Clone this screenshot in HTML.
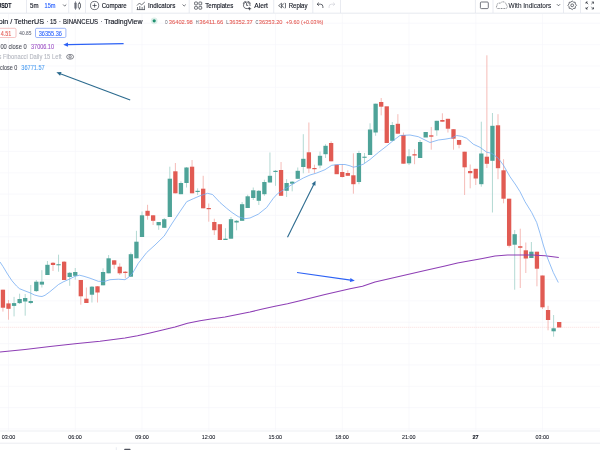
<!DOCTYPE html><html><head><meta charset="utf-8"><style>
html,body{margin:0;padding:0;background:#fff;}
body{width:600px;height:450px;overflow:hidden;position:relative;font-family:"Liberation Sans",sans-serif;}
svg{position:absolute;left:0;top:0;will-change:transform;filter:blur(0.3px);}
</style></head><body>
<svg width="600" height="450" viewBox="0 0 600 450" font-family="Liberation Sans, sans-serif">
<g stroke="#f6f7fa" stroke-width="0.7"><line x1="8.50" y1="14" x2="8.50" y2="430.5" /><line x1="75.25" y1="14" x2="75.25" y2="430.5" /><line x1="142.00" y1="14" x2="142.00" y2="430.5" /><line x1="208.75" y1="14" x2="208.75" y2="430.5" /><line x1="275.50" y1="14" x2="275.50" y2="430.5" /><line x1="342.25" y1="14" x2="342.25" y2="430.5" /><line x1="409.00" y1="14" x2="409.00" y2="430.5" /><line x1="475.75" y1="14" x2="475.75" y2="430.5" /><line x1="542.50" y1="14" x2="542.50" y2="430.5" /><line x1="0" y1="23.30" x2="600" y2="23.30" /><line x1="0" y1="44.65" x2="600" y2="44.65" /><line x1="0" y1="66.00" x2="600" y2="66.00" /><line x1="0" y1="87.35" x2="600" y2="87.35" /><line x1="0" y1="108.70" x2="600" y2="108.70" /><line x1="0" y1="130.05" x2="600" y2="130.05" /><line x1="0" y1="151.40" x2="600" y2="151.40" /><line x1="0" y1="172.75" x2="600" y2="172.75" /><line x1="0" y1="194.10" x2="600" y2="194.10" /><line x1="0" y1="215.45" x2="600" y2="215.45" /><line x1="0" y1="236.80" x2="600" y2="236.80" /><line x1="0" y1="258.15" x2="600" y2="258.15" /><line x1="0" y1="279.50" x2="600" y2="279.50" /><line x1="0" y1="300.85" x2="600" y2="300.85" /><line x1="0" y1="322.20" x2="600" y2="322.20" /><line x1="0" y1="343.55" x2="600" y2="343.55" /><line x1="0" y1="364.90" x2="600" y2="364.90" /><line x1="0" y1="386.25" x2="600" y2="386.25" /><line x1="0" y1="407.60" x2="600" y2="407.60" /><line x1="0" y1="428.95" x2="600" y2="428.95" /></g>
<line x1="0" y1="327.3" x2="600" y2="327.3" stroke="#f8d3d1" stroke-width="0.6" stroke-dasharray="1.3 0.7"/>
<g stroke-width="0.8"><line x1="2.94" y1="289.7" x2="2.94" y2="311.6" stroke="#f2a9a5" /><line x1="8.50" y1="300" x2="8.50" y2="319.7" stroke="#f2a9a5" /><line x1="14.06" y1="296.9" x2="14.06" y2="316.4" stroke="#9fcfc8" /><line x1="19.62" y1="293.7" x2="19.62" y2="304" stroke="#9fcfc8" /><line x1="25.19" y1="294" x2="25.19" y2="315.7" stroke="#9fcfc8" /><line x1="30.75" y1="285" x2="30.75" y2="304.2" stroke="#9fcfc8" /><line x1="36.31" y1="280" x2="36.31" y2="292" stroke="#9fcfc8" /><line x1="41.88" y1="270.2" x2="41.88" y2="287.5" stroke="#9fcfc8" /><line x1="47.44" y1="261" x2="47.44" y2="275" stroke="#9fcfc8" /><line x1="53.00" y1="262" x2="53.00" y2="271" stroke="#f2a9a5" /><line x1="58.56" y1="254.7" x2="58.56" y2="271.7" stroke="#9fcfc8" /><line x1="64.12" y1="261" x2="64.12" y2="280" stroke="#f2a9a5" /><line x1="69.69" y1="272" x2="69.69" y2="285.8" stroke="#9fcfc8" /><line x1="75.25" y1="268" x2="75.25" y2="279.7" stroke="#9fcfc8" /><line x1="80.81" y1="280" x2="80.81" y2="304.7" stroke="#f2a9a5" /><line x1="86.38" y1="287.5" x2="86.38" y2="303" stroke="#f2a9a5" /><line x1="91.94" y1="286" x2="91.94" y2="302.5" stroke="#9fcfc8" /><line x1="97.50" y1="286" x2="97.50" y2="302.5" stroke="#f2a9a5" /><line x1="103.06" y1="268.3" x2="103.06" y2="285.3" stroke="#9fcfc8" /><line x1="108.62" y1="255" x2="108.62" y2="273.3" stroke="#9fcfc8" /><line x1="114.19" y1="260" x2="114.19" y2="268.7" stroke="#f2a9a5" /><line x1="119.75" y1="263.3" x2="119.75" y2="275" stroke="#f2a9a5" /><line x1="125.31" y1="271" x2="125.31" y2="278.3" stroke="#f2a9a5" /><line x1="130.88" y1="252.5" x2="130.88" y2="277" stroke="#9fcfc8" /><line x1="136.44" y1="230.8" x2="136.44" y2="258.3" stroke="#9fcfc8" /><line x1="142.00" y1="211.5" x2="142.00" y2="237" stroke="#9fcfc8" /><line x1="147.56" y1="204.8" x2="147.56" y2="219.7" stroke="#f2a9a5" /><line x1="153.12" y1="215" x2="153.12" y2="225" stroke="#f2a9a5" /><line x1="158.69" y1="222" x2="158.69" y2="229.8" stroke="#9fcfc8" /><line x1="164.25" y1="218" x2="164.25" y2="228" stroke="#9fcfc8" /><line x1="169.81" y1="166.7" x2="169.81" y2="217" stroke="#9fcfc8" /><line x1="175.38" y1="163" x2="175.38" y2="193.3" stroke="#f2a9a5" /><line x1="180.94" y1="181.3" x2="180.94" y2="194.2" stroke="#9fcfc8" /><line x1="186.50" y1="167" x2="186.50" y2="187.5" stroke="#9fcfc8" /><line x1="192.06" y1="160" x2="192.06" y2="193.3" stroke="#f2a9a5" /><line x1="197.62" y1="188.3" x2="197.62" y2="195" stroke="#9fcfc8" /><line x1="203.19" y1="175.8" x2="203.19" y2="208.3" stroke="#f2a9a5" /><line x1="208.75" y1="203.5" x2="208.75" y2="221.7" stroke="#f2a9a5" /><line x1="214.31" y1="218.7" x2="214.31" y2="235" stroke="#f2a9a5" /><line x1="225.44" y1="228.2" x2="225.44" y2="240" stroke="#9fcfc8" /><line x1="231.00" y1="217" x2="231.00" y2="238.7" stroke="#9fcfc8" /><line x1="236.56" y1="220" x2="236.56" y2="230.3" stroke="#9fcfc8" /><line x1="242.12" y1="202" x2="242.12" y2="220.8" stroke="#9fcfc8" /><line x1="247.69" y1="194.7" x2="247.69" y2="208" stroke="#9fcfc8" /><line x1="253.25" y1="187.5" x2="253.25" y2="200" stroke="#9fcfc8" /><line x1="258.81" y1="190" x2="258.81" y2="205" stroke="#9fcfc8" /><line x1="264.38" y1="179.7" x2="264.38" y2="195.8" stroke="#9fcfc8" /><line x1="269.94" y1="152.5" x2="269.94" y2="182.5" stroke="#9fcfc8" /><line x1="275.50" y1="170" x2="275.50" y2="185.8" stroke="#9fcfc8" /><line x1="281.06" y1="162" x2="281.06" y2="195.8" stroke="#f2a9a5" /><line x1="286.62" y1="179.2" x2="286.62" y2="197" stroke="#9fcfc8" /><line x1="292.19" y1="181" x2="292.19" y2="191.3" stroke="#9fcfc8" /><line x1="297.75" y1="167.5" x2="297.75" y2="178.8" stroke="#9fcfc8" /><line x1="303.31" y1="134.2" x2="303.31" y2="173.3" stroke="#9fcfc8" /><line x1="308.88" y1="122.5" x2="308.88" y2="173" stroke="#f2a9a5" /><line x1="314.44" y1="164.7" x2="314.44" y2="173.3" stroke="#f2a9a5" /><line x1="320.00" y1="151.5" x2="320.00" y2="168.3" stroke="#9fcfc8" /><line x1="325.56" y1="144.2" x2="325.56" y2="158" stroke="#9fcfc8" /><line x1="331.12" y1="141.3" x2="331.12" y2="161.3" stroke="#f2a9a5" /><line x1="342.25" y1="164.2" x2="342.25" y2="177.5" stroke="#f2a9a5" /><line x1="347.81" y1="170.3" x2="347.81" y2="175.8" stroke="#f2a9a5" /><line x1="353.38" y1="153.3" x2="353.38" y2="193.7" stroke="#f2a9a5" /><line x1="358.94" y1="150.8" x2="358.94" y2="184.2" stroke="#9fcfc8" /><line x1="364.50" y1="153" x2="364.50" y2="163.3" stroke="#9fcfc8" /><line x1="370.06" y1="123.3" x2="370.06" y2="155" stroke="#9fcfc8" /><line x1="375.62" y1="103.7" x2="375.62" y2="135.8" stroke="#9fcfc8" /><line x1="381.19" y1="98" x2="381.19" y2="115.3" stroke="#f2a9a5" /><line x1="392.31" y1="122" x2="392.31" y2="140.8" stroke="#9fcfc8" /><line x1="397.88" y1="114.2" x2="397.88" y2="133.7" stroke="#f2a9a5" /><line x1="403.44" y1="132.5" x2="403.44" y2="163.7" stroke="#f2a9a5" /><line x1="409.00" y1="149.2" x2="409.00" y2="165" stroke="#9fcfc8" /><line x1="414.56" y1="149.2" x2="414.56" y2="164.2" stroke="#f2a9a5" /><line x1="420.12" y1="140" x2="420.12" y2="158" stroke="#9fcfc8" /><line x1="431.25" y1="127" x2="431.25" y2="149.7" stroke="#f2a9a5" /><line x1="436.81" y1="120.8" x2="436.81" y2="135.8" stroke="#9fcfc8" /><line x1="442.38" y1="113.3" x2="442.38" y2="121.7" stroke="#f2a9a5" /><line x1="447.94" y1="118.8" x2="447.94" y2="132.5" stroke="#f2a9a5" /><line x1="453.50" y1="129" x2="453.50" y2="149.7" stroke="#f2a9a5" /><line x1="459.06" y1="140" x2="459.06" y2="148.3" stroke="#f2a9a5" /><line x1="464.62" y1="151.7" x2="464.62" y2="195" stroke="#f2a9a5" /><line x1="470.19" y1="164.5" x2="470.19" y2="188.3" stroke="#f2a9a5" /><line x1="475.75" y1="168.8" x2="475.75" y2="185" stroke="#f2a9a5" /><line x1="481.31" y1="121.7" x2="481.31" y2="186.7" stroke="#9fcfc8" /><line x1="486.88" y1="55.3" x2="486.88" y2="168" stroke="#f2a9a5" /><line x1="492.44" y1="113" x2="492.44" y2="212.5" stroke="#9fcfc8" /><line x1="498.00" y1="114.2" x2="498.00" y2="179.2" stroke="#f2a9a5" /><line x1="503.56" y1="159.2" x2="503.56" y2="203.3" stroke="#f2a9a5" /><line x1="509.12" y1="198.7" x2="509.12" y2="247.5" stroke="#f2a9a5" /><line x1="514.69" y1="230" x2="514.69" y2="289.7" stroke="#9fcfc8" /><line x1="520.25" y1="228.7" x2="520.25" y2="288" stroke="#f2a9a5" /><line x1="525.81" y1="242.5" x2="525.81" y2="273" stroke="#f2a9a5" /><line x1="531.38" y1="242" x2="531.38" y2="258" stroke="#9fcfc8" /><line x1="536.94" y1="251.7" x2="536.94" y2="286.3" stroke="#f2a9a5" /><line x1="542.50" y1="275.5" x2="542.50" y2="309" stroke="#f2a9a5" /><line x1="548.06" y1="305.8" x2="548.06" y2="330.3" stroke="#f2a9a5" /><line x1="553.62" y1="315" x2="553.62" y2="336.7" stroke="#9fcfc8" /></g>
<g><rect x="0.79" y="289.7" width="4.3" height="18.00" fill="#e15b53" /><rect x="6.35" y="303.4" width="4.3" height="5.40" fill="#e15b53" /><rect x="11.91" y="303.1" width="4.3" height="2.80" fill="#4ea398" /><rect x="17.48" y="299" width="4.3" height="4.10" fill="#4ea398" /><rect x="23.04" y="298" width="4.3" height="3.50" fill="#4ea398" /><rect x="28.60" y="301" width="4.3" height="2.00" fill="#4ea398" /><rect x="34.16" y="281.7" width="4.3" height="9.40" fill="#4ea398" /><rect x="39.73" y="281.7" width="4.3" height="2.90" fill="#4ea398" /><rect x="45.29" y="264.8" width="4.3" height="10.20" fill="#4ea398" /><rect x="50.85" y="262.8" width="4.3" height="2.20" fill="#e15b53" /><rect x="56.41" y="264.2" width="4.3" height="1.10" fill="#4ea398" /><rect x="61.98" y="261.7" width="4.3" height="18.30" fill="#e15b53" /><rect x="67.54" y="272.8" width="4.3" height="4.20" fill="#4ea398" /><rect x="73.10" y="272" width="4.3" height="3.80" fill="#4ea398" /><rect x="78.66" y="280" width="4.3" height="16.30" fill="#e15b53" /><rect x="84.22" y="298.7" width="4.3" height="4.30" fill="#e15b53" /><rect x="89.79" y="286.7" width="4.3" height="8.00" fill="#4ea398" /><rect x="95.35" y="286.3" width="4.3" height="6.20" fill="#e15b53" /><rect x="100.91" y="272" width="4.3" height="13.30" fill="#4ea398" /><rect x="106.47" y="258.3" width="4.3" height="15.00" fill="#4ea398" /><rect x="112.04" y="260.3" width="4.3" height="4.40" fill="#e15b53" /><rect x="117.60" y="266.7" width="4.3" height="6.60" fill="#e15b53" /><rect x="123.16" y="271.7" width="4.3" height="1.30" fill="#e15b53" /><rect x="128.72" y="254.2" width="4.3" height="22.50" fill="#4ea398" /><rect x="134.29" y="241.7" width="4.3" height="16.60" fill="#4ea398" /><rect x="139.85" y="215.3" width="4.3" height="21.70" fill="#4ea398" /><rect x="145.41" y="210.8" width="4.3" height="5.00" fill="#e15b53" /><rect x="150.97" y="215.3" width="4.3" height="5.50" fill="#e15b53" /><rect x="156.54" y="222" width="4.3" height="3.30" fill="#4ea398" /><rect x="162.10" y="219.2" width="4.3" height="8.60" fill="#4ea398" /><rect x="167.66" y="178.7" width="4.3" height="38.30" fill="#4ea398" /><rect x="173.22" y="171.3" width="4.3" height="22.00" fill="#e15b53" /><rect x="178.79" y="183" width="4.3" height="11.20" fill="#4ea398" /><rect x="184.35" y="167.5" width="4.3" height="15.50" fill="#4ea398" /><rect x="189.91" y="166.7" width="4.3" height="26.60" fill="#e15b53" /><rect x="195.47" y="190.8" width="4.3" height="1.20" fill="#4ea398" /><rect x="201.04" y="188.7" width="4.3" height="19.60" fill="#e15b53" /><rect x="206.60" y="208" width="4.3" height="1.20" fill="#e15b53" /><rect x="212.16" y="222" width="4.3" height="8.20" fill="#e15b53" /><rect x="217.72" y="224.2" width="4.3" height="15.80" fill="#e15b53" /><rect x="223.29" y="238.7" width="4.3" height="1.30" fill="#4ea398" /><rect x="228.85" y="219.2" width="4.3" height="19.50" fill="#4ea398" /><rect x="234.41" y="220.8" width="4.3" height="1.70" fill="#4ea398" /><rect x="239.97" y="204.2" width="4.3" height="16.60" fill="#4ea398" /><rect x="245.54" y="196.3" width="4.3" height="11.70" fill="#4ea398" /><rect x="251.10" y="190.3" width="4.3" height="7.70" fill="#4ea398" /><rect x="256.66" y="190.8" width="4.3" height="10.00" fill="#4ea398" /><rect x="262.23" y="182" width="4.3" height="12.20" fill="#4ea398" /><rect x="267.79" y="175.8" width="4.3" height="6.70" fill="#4ea398" /><rect x="273.35" y="170.8" width="4.3" height="1.20" fill="#4ea398" /><rect x="278.91" y="170" width="4.3" height="25.80" fill="#e15b53" /><rect x="284.48" y="183" width="4.3" height="7.80" fill="#4ea398" /><rect x="290.04" y="181.7" width="4.3" height="2.00" fill="#4ea398" /><rect x="295.60" y="170.8" width="4.3" height="8.00" fill="#4ea398" /><rect x="301.16" y="158.8" width="4.3" height="8.20" fill="#4ea398" /><rect x="306.73" y="152.3" width="4.3" height="16.20" fill="#e15b53" /><rect x="312.29" y="168" width="4.3" height="1.20" fill="#e15b53" /><rect x="317.85" y="155.8" width="4.3" height="9.70" fill="#4ea398" /><rect x="323.41" y="145.8" width="4.3" height="8.40" fill="#4ea398" /><rect x="328.98" y="143" width="4.3" height="18.30" fill="#e15b53" /><rect x="334.54" y="164.7" width="4.3" height="9.50" fill="#e15b53" /><rect x="340.10" y="172" width="4.3" height="5.00" fill="#e15b53" /><rect x="345.66" y="173" width="4.3" height="2.80" fill="#e15b53" /><rect x="351.23" y="175.3" width="4.3" height="8.90" fill="#e15b53" /><rect x="356.79" y="153" width="4.3" height="29.00" fill="#4ea398" /><rect x="362.35" y="156.7" width="4.3" height="1.10" fill="#4ea398" /><rect x="367.91" y="129.5" width="4.3" height="25.50" fill="#4ea398" /><rect x="373.48" y="103.7" width="4.3" height="28.80" fill="#4ea398" /><rect x="379.04" y="102" width="4.3" height="4.70" fill="#e15b53" /><rect x="384.60" y="106.3" width="4.3" height="36.70" fill="#e15b53" /><rect x="390.16" y="125" width="4.3" height="15.80" fill="#4ea398" /><rect x="395.73" y="123.8" width="4.3" height="9.90" fill="#e15b53" /><rect x="401.29" y="135" width="4.3" height="28.70" fill="#e15b53" /><rect x="406.85" y="156.3" width="4.3" height="7.00" fill="#4ea398" /><rect x="412.41" y="154.2" width="4.3" height="1.30" fill="#e15b53" /><rect x="417.98" y="142" width="4.3" height="16.00" fill="#4ea398" /><rect x="423.54" y="132" width="4.3" height="5.50" fill="#4ea398" /><rect x="429.10" y="135.3" width="4.3" height="1.40" fill="#e15b53" /><rect x="434.66" y="120.8" width="4.3" height="9.50" fill="#4ea398" /><rect x="440.23" y="120" width="4.3" height="1.70" fill="#e15b53" /><rect x="445.79" y="118.8" width="4.3" height="9.90" fill="#e15b53" /><rect x="451.35" y="129.2" width="4.3" height="9.50" fill="#e15b53" /><rect x="456.91" y="140" width="4.3" height="4.80" fill="#e15b53" /><rect x="462.48" y="151.7" width="4.3" height="15.60" fill="#e15b53" /><rect x="468.04" y="171" width="4.3" height="2.20" fill="#e15b53" /><rect x="473.60" y="168.8" width="4.3" height="9.70" fill="#e15b53" /><rect x="479.16" y="153.5" width="4.3" height="30.70" fill="#4ea398" /><rect x="484.73" y="156.7" width="4.3" height="7.10" fill="#e15b53" /><rect x="490.29" y="125.8" width="4.3" height="35.00" fill="#4ea398" /><rect x="495.85" y="125.3" width="4.3" height="42.90" fill="#e15b53" /><rect x="501.41" y="170.3" width="4.3" height="28.40" fill="#e15b53" /><rect x="506.98" y="198.7" width="4.3" height="47.10" fill="#e15b53" /><rect x="512.54" y="234.2" width="4.3" height="10.50" fill="#4ea398" /><rect x="518.10" y="246.2" width="4.3" height="1.60" fill="#e15b53" /><rect x="523.66" y="250.3" width="4.3" height="8.20" fill="#e15b53" /><rect x="529.23" y="251.7" width="4.3" height="6.30" fill="#4ea398" /><rect x="534.79" y="251.7" width="4.3" height="17.00" fill="#e15b53" /><rect x="540.35" y="275.5" width="4.3" height="31.80" fill="#e15b53" /><rect x="545.91" y="310" width="4.3" height="10.00" fill="#e15b53" /><rect x="551.48" y="328.3" width="4.3" height="3.00" fill="#4ea398" /><rect x="557.04" y="322" width="4.3" height="5.50" fill="#e15b53" /></g>
<polyline points="0.0,352.0 25.0,349.5 50.0,346.5 75.0,343.8 100.0,341.2 125.0,338.0 137.5,335.8 150.0,333.0 162.5,330.0 175.0,327.0 187.5,323.2 200.0,320.8 212.5,318.8 225.0,317.0 237.5,314.5 250.0,312.0 262.5,309.0 275.0,306.2 287.5,303.8 300.0,300.8 325.0,294.5 350.0,288.8 362.5,286.2 375.0,282.0 400.0,276.2 425.0,270.5 445.0,266.0 457.5,263.0 470.0,260.8 482.5,258.5 495.0,256.0 507.5,255.0 520.0,255.0 532.5,255.0 545.0,255.8 558.8,257.5" fill="none" stroke="#8e3fb5" stroke-width="1.1" stroke-linejoin="round"/>
<polyline points="0.0,262.0 3.0,266.5 7.5,274.0 12.0,280.8 16.5,286.0 19.5,288.7 24.0,290.5 30.0,292.8 34.5,295.0 39.0,296.2 42.0,296.5 45.0,295.3 49.5,292.0 54.0,288.3 58.5,284.5 63.0,282.0 69.0,279.3 75.0,276.3 79.5,275.2 84.0,276.3 90.0,278.2 98.3,281.3 105.0,281.3 110.0,279.7 118.3,279.2 125.0,279.7 129.0,277.0 132.5,273.3 138.3,263.3 146.7,252.5 155.0,245.0 164.2,236.0 171.7,224.0 180.0,211.5 186.7,201.7 193.3,198.7 200.0,195.8 207.5,193.3 212.5,194.5 220.0,202.5 226.7,208.3 232.0,212.5 238.3,216.7 245.0,218.7 250.0,218.0 258.3,214.2 266.7,207.5 273.3,198.3 277.5,193.7 283.3,190.0 290.0,185.8 296.7,181.7 303.3,178.0 310.0,175.0 316.7,173.0 325.0,169.7 331.7,165.3 338.3,164.5 345.0,164.5 350.0,165.8 353.3,167.2 357.5,166.3 363.3,164.2 370.0,159.5 378.3,152.5 386.7,146.0 393.3,140.5 400.0,135.5 410.0,135.0 418.3,136.7 424.0,139.5 430.0,142.5 438.3,140.0 445.0,139.2 451.7,138.0 456.7,135.5 461.7,136.3 466.7,138.3 473.3,144.2 480.0,147.3 486.7,152.2 491.7,153.3 498.3,158.3 503.3,165.0 510.0,176.7 515.8,185.0 520.0,191.7 525.0,201.7 531.7,212.5 536.7,222.5 540.0,233.3 543.3,245.0 546.7,255.8 548.3,260.0 553.3,272.5 558.3,282.5" fill="none" stroke="#6ea8f2" stroke-width="0.75" stroke-linejoin="round"/>
<line x1="123.6" y1="43.6" x2="67.50" y2="44.62" stroke="#2d62f5" stroke-width="1.1"/><polygon points="63.3,44.7 67.96,42.51 68.04,46.71" fill="#2d62f5"/>
<line x1="130.2" y1="99.9" x2="60.33" y2="73.68" stroke="#2b6a8e" stroke-width="1.1"/><polygon points="56.4,72.2 61.54,71.89 60.06,75.82" fill="#2b6a8e"/>
<line x1="287.5" y1="237.3" x2="313.73" y2="184.46" stroke="#2b6a8e" stroke-width="1.1"/><polygon points="315.6,180.7 315.39,185.84 311.63,183.98" fill="#2b6a8e"/>
<line x1="297.0" y1="272.5" x2="350.64" y2="280.11" stroke="#2d62f5" stroke-width="1.1"/><polygon points="354.8,280.7 349.85,282.12 350.44,277.96" fill="#2d62f5"/>
<line x1="0" y1="431" x2="600" y2="431" stroke="#e9ebf0" stroke-width="0.8"/>
<line x1="0" y1="443.2" x2="600" y2="443.2" stroke="#e6e8ee" stroke-width="0.8"/>
<rect x="0" y="0" width="600" height="13" fill="#fff"/>
<line x1="0" y1="13.2" x2="600" y2="13.2" stroke="#e0e3eb" stroke-width="0.8"/>
<line x1="26.5" y1="0" x2="26.5" y2="13" stroke="#e0e3eb" stroke-width="0.7"/>
<line x1="68.7" y1="0" x2="68.7" y2="13" stroke="#e0e3eb" stroke-width="0.7"/>
<line x1="85.5" y1="0" x2="85.5" y2="13" stroke="#e0e3eb" stroke-width="0.7"/>
<line x1="132" y1="0" x2="132" y2="13" stroke="#e0e3eb" stroke-width="0.7"/>
<line x1="189.2" y1="0" x2="189.2" y2="13" stroke="#e0e3eb" stroke-width="0.7"/>
<line x1="273.7" y1="0" x2="273.7" y2="13" stroke="#e0e3eb" stroke-width="0.7"/>
<line x1="312.8" y1="0" x2="312.8" y2="13" stroke="#e0e3eb" stroke-width="0.7"/>
<line x1="340.5" y1="0" x2="340.5" y2="13" stroke="#e0e3eb" stroke-width="0.7"/>
<line x1="475.4" y1="0" x2="475.4" y2="13" stroke="#e0e3eb" stroke-width="0.7"/>
<line x1="493" y1="0" x2="493" y2="13" stroke="#e0e3eb" stroke-width="0.7"/>
<line x1="563.5" y1="0" x2="563.5" y2="13" stroke="#e0e3eb" stroke-width="0.7"/>
<line x1="580.5" y1="0" x2="580.5" y2="13" stroke="#e0e3eb" stroke-width="0.7"/>
<text x="-2.6" y="7.9" font-size="6.8" fill="#131722" stroke="#131722" stroke-width="0.13" font-weight="bold" text-anchor="start" textLength="14.1" lengthAdjust="spacingAndGlyphs">USDT</text>
<text x="30" y="7.9" font-size="6.8" fill="#131722" stroke="#131722" stroke-width="0.13" font-weight="normal" text-anchor="start" textLength="8.5" lengthAdjust="spacingAndGlyphs">5m</text>
<text x="44.5" y="7.9" font-size="6.8" fill="#2962ff" stroke="#2962ff" stroke-width="0.13" font-weight="normal" text-anchor="start" textLength="11" lengthAdjust="spacingAndGlyphs">15m</text>
<text x="101.7" y="7.9" font-size="6.8" fill="#131722" stroke="#131722" stroke-width="0.13" font-weight="normal" text-anchor="start" textLength="25" lengthAdjust="spacingAndGlyphs">Compare</text>
<text x="148" y="7.9" font-size="6.8" fill="#131722" stroke="#131722" stroke-width="0.13" font-weight="normal" text-anchor="start" textLength="27.3" lengthAdjust="spacingAndGlyphs">Indicators</text>
<text x="205.3" y="7.9" font-size="6.8" fill="#131722" stroke="#131722" stroke-width="0.13" font-weight="normal" text-anchor="start" textLength="28" lengthAdjust="spacingAndGlyphs">Templates</text>
<text x="254.2" y="7.9" font-size="6.8" fill="#131722" stroke="#131722" stroke-width="0.13" font-weight="normal" text-anchor="start" textLength="13.8" lengthAdjust="spacingAndGlyphs">Alert</text>
<text x="288.7" y="7.9" font-size="6.8" fill="#131722" stroke="#131722" stroke-width="0.13" font-weight="normal" text-anchor="start" textLength="18.8" lengthAdjust="spacingAndGlyphs">Replay</text>
<text x="508.6" y="7.9" font-size="6.8" fill="#131722" stroke="#131722" stroke-width="0.05" font-weight="normal" text-anchor="start" textLength="42.7" lengthAdjust="spacingAndGlyphs">With Indicators</text>
<polyline points="63.1,4.5 64.7,6.1 66.3,4.5" fill="none" stroke="#131722" stroke-width="0.6"/><polyline points="182.6,4.5 184.2,6.1 185.79999999999998,4.5" fill="none" stroke="#131722" stroke-width="0.6"/><polyline points="556.9,4.2 558.5,5.8 560.1,4.2" fill="none" stroke="#131722" stroke-width="0.6"/><g stroke="#131722" stroke-width="0.6"><rect x="74.4" y="2.6" width="2.2" height="6.2" rx="0.7" fill="#6a6d78" stroke="none"/><line x1="75.5" y1="1.2" x2="75.5" y2="10" stroke="#6a6d78"/><rect x="78.3" y="3.4" width="2.2" height="4.6" rx="0.7" fill="none"/><line x1="79.4" y1="1.8" x2="79.4" y2="3.4"/><line x1="79.4" y1="8" x2="79.4" y2="9.6"/></g><g fill="none" stroke="#131722" stroke-width="0.6"><circle cx="94.6" cy="5.5" r="4.1"/><line x1="92.5" y1="5.5" x2="96.7" y2="5.5"/><line x1="94.6" y1="3.4" x2="94.6" y2="7.6"/></g><g fill="none" stroke="#131722" stroke-width="0.6"><polyline points="137,5.5 139.5,3 141.5,5 144.8,2"/><line x1="137.5" y1="9.5" x2="137.5" y2="7"/><line x1="139.8" y1="9.5" x2="139.8" y2="6"/><line x1="142.1" y1="9.5" x2="142.1" y2="7"/><line x1="144.4" y1="9.5" x2="144.4" y2="5.5"/><line x1="136.7" y1="9.6" x2="145" y2="9.6"/></g><g fill="none" stroke="#131722" stroke-width="0.6"><rect x="194.6" y="2" width="2.8" height="2.8" rx="0.6"/><rect x="198.9" y="2" width="2.8" height="2.8" rx="0.6"/><rect x="194.6" y="6.4" width="2.8" height="2.8" rx="0.6"/><rect x="198.9" y="6.4" width="2.8" height="2.8" rx="0.6"/></g><g fill="none" stroke="#131722" stroke-width="0.65" stroke-linecap="round"><path d="M248.6,8.2 A3.3,3.3 0 1 1 250.1,5.6"/><path d="M243.3,3.4 Q243.6,1.6 245.4,1.4"/><path d="M250.3,3.4 Q250,1.6 248.2,1.4"/><polyline points="246.6,3.4 246.6,5.4 247.8,5.4"/><line x1="248.4" y1="8.7" x2="250.8" y2="8.7"/><line x1="249.6" y1="7.5" x2="249.6" y2="9.9"/></g><g fill="none" stroke="#131722" stroke-width="0.6" stroke-linejoin="round"><polygon points="281.6,3.2 278.6,5.6 281.6,8"/><polyline points="284.4,3.2 281.6,5.6 284.4,8"/><line x1="285.5" y1="3" x2="285.5" y2="8.2"/></g><g fill="none" stroke="#131722" stroke-width="0.65"><path d="M317.2,4.2 L320.5,4.2 A2.4,2.4 0 0 1 322.9,6.6 L322.9,8"/><polyline points="318.8,2.6 317.2,4.2 318.8,5.8"/></g><g fill="none" stroke="#c8cad1" stroke-width="0.6"><path d="M334.8,4.2 L331.5,4.2 A2.4,2.4 0 0 0 329.1,6.6 L329.1,8"/><polyline points="333.2,2.6 334.8,4.2 333.2,5.8"/></g><rect x="480.4" y="2.0" width="7.9" height="6.6" rx="1.0" fill="none" stroke="#50535e" stroke-width="0.8"/><path d="M497.8,8.5 L505.4,8.5 A1.9,1.9 0 0 0 506.3,4.9 A3.3,3.3 0 0 0 500.2,3.4 A2.1,2.1 0 0 0 497.1,5.9 A1.4,1.4 0 0 0 497.8,8.5 Z" fill="none" stroke="#131722" stroke-width="0.55" stroke-dasharray="0.9 0.7"/><polygon points="576.5,5.3 575.4,6.6 575.2,8.3 573.5,8.5 572.2,9.6 570.9,8.5 569.2,8.3 569.0,6.6 567.9,5.3 569.0,4.0 569.2,2.3 570.9,2.1 572.2,1.0 573.5,2.1 575.2,2.3 575.4,4.0" fill="none" stroke="#131722" stroke-width="0.6" stroke-linejoin="round"/><circle cx="572.2" cy="5.3" r="1.4" fill="none" stroke="#131722" stroke-width="0.6"/><g fill="none" stroke="#131722" stroke-width="0.6"><polyline points="586,3.8 586,2 587.8,2"/><line x1="586" y1="2" x2="588.2" y2="4.2"/><polyline points="593.5,3.8 593.5,2 591.7,2"/><line x1="593.5" y1="2" x2="591.3" y2="4.2"/><polyline points="586,7.2 586,9 587.8,9"/><line x1="586" y1="9" x2="588.2" y2="6.8"/><polyline points="593.5,7.2 593.5,9 591.7,9"/><line x1="593.5" y1="9" x2="591.3" y2="6.8"/></g>
<text x="-1.3" y="23.9" font-size="7.0" fill="#131722" stroke="#131722" stroke-width="0.13" font-weight="normal" text-anchor="start" textLength="45.3" lengthAdjust="spacingAndGlyphs">oin / TetherUS</text>
<text x="46.3" y="23.9" font-size="6.9" fill="#787b86" stroke="#787b86" stroke-width="0.13" font-weight="normal" text-anchor="start">·</text>
<text x="50" y="23.9" font-size="6.9" fill="#131722" stroke="#131722" stroke-width="0.13" font-weight="normal" text-anchor="start" textLength="6.7" lengthAdjust="spacingAndGlyphs">15</text>
<text x="58.8" y="23.9" font-size="6.9" fill="#787b86" stroke="#787b86" stroke-width="0.13" font-weight="normal" text-anchor="start">·</text>
<text x="63" y="23.9" font-size="6.9" fill="#131722" stroke="#131722" stroke-width="0.13" font-weight="normal" text-anchor="start" textLength="35" lengthAdjust="spacingAndGlyphs">BINANCEUS</text>
<text x="100.3" y="23.9" font-size="6.9" fill="#787b86" stroke="#787b86" stroke-width="0.13" font-weight="normal" text-anchor="start">·</text>
<text x="104.2" y="23.9" font-size="6.9" fill="#131722" stroke="#131722" stroke-width="0.13" font-weight="normal" text-anchor="start" textLength="38.3" lengthAdjust="spacingAndGlyphs">TradingView</text>
<circle cx="154.2" cy="20.8" r="3.4" fill="#dcefe9"/><circle cx="154.2" cy="20.8" r="1.6" fill="#1f8f6f"/>
<text x="165" y="23.7" font-size="6.1" fill="#70737e" stroke="#70737e" stroke-width="0.1" font-weight="normal" text-anchor="start" textLength="2.6" lengthAdjust="spacingAndGlyphs">O</text>
<text x="168.8" y="23.7" font-size="6.1" fill="#e4605a" stroke="#e4605a" stroke-width="0.1" font-weight="normal" text-anchor="start" textLength="24" lengthAdjust="spacingAndGlyphs">36402.98</text>
<text x="195.8" y="23.7" font-size="6.1" fill="#70737e" stroke="#70737e" stroke-width="0.1" font-weight="normal" text-anchor="start" textLength="2.9" lengthAdjust="spacingAndGlyphs">H</text>
<text x="199.2" y="23.7" font-size="6.1" fill="#e4605a" stroke="#e4605a" stroke-width="0.1" font-weight="normal" text-anchor="start" textLength="24" lengthAdjust="spacingAndGlyphs">36411.66</text>
<text x="226.3" y="23.7" font-size="6.1" fill="#70737e" stroke="#70737e" stroke-width="0.1" font-weight="normal" text-anchor="start" textLength="2.5" lengthAdjust="spacingAndGlyphs">L</text>
<text x="229.2" y="23.7" font-size="6.1" fill="#e4605a" stroke="#e4605a" stroke-width="0.1" font-weight="normal" text-anchor="start" textLength="23.5" lengthAdjust="spacingAndGlyphs">36352.37</text>
<text x="255.6" y="23.7" font-size="6.1" fill="#70737e" stroke="#70737e" stroke-width="0.1" font-weight="normal" text-anchor="start" textLength="2.9" lengthAdjust="spacingAndGlyphs">C</text>
<text x="258.8" y="23.7" font-size="6.1" fill="#e4605a" stroke="#e4605a" stroke-width="0.1" font-weight="normal" text-anchor="start" textLength="23.7" lengthAdjust="spacingAndGlyphs">36353.20</text>
<text x="285.8" y="23.7" font-size="6.1" fill="#e4605a" stroke="#e4605a" stroke-width="0.1" font-weight="normal" text-anchor="start" textLength="37.5" lengthAdjust="spacingAndGlyphs">+9.60 (+0.03%)</text>
<rect x="-4" y="28.3" width="20" height="9.2" rx="1.3" fill="#fff" stroke="#ef9a9a" stroke-width="0.6"/>
<text x="0.7" y="35.6" font-size="6.6" fill="#e4605a" stroke="#e4605a" stroke-width="0.12" font-weight="normal" text-anchor="start" textLength="10.6" lengthAdjust="spacingAndGlyphs">4.51</text>
<text x="19.3" y="34.9" font-size="4.6" fill="#787b86" stroke="#787b86" stroke-width="0.13" font-weight="normal" text-anchor="start" textLength="12" lengthAdjust="spacingAndGlyphs">40.85</text>
<rect x="35.5" y="28.3" width="30.4" height="9.2" rx="1.3" fill="#fff" stroke="#5c85f5" stroke-width="0.6"/>
<text x="38.7" y="35.6" font-size="6.5" fill="#2962ff" stroke="#2962ff" stroke-width="0.1" font-weight="normal" text-anchor="start" textLength="23.3" lengthAdjust="spacingAndGlyphs">36355.36</text>
<text x="-1.2" y="49.1" font-size="6.4" fill="#4a4d58" stroke="#4a4d58" stroke-width="0.08" font-weight="normal" text-anchor="start" textLength="27.9" lengthAdjust="spacingAndGlyphs">:00 close 0</text>
<text x="31" y="49.1" font-size="6.4" fill="#9c4fc4" stroke="#9c4fc4" stroke-width="0.08" font-weight="normal" text-anchor="start" textLength="23" lengthAdjust="spacingAndGlyphs">37006.10</text>
<text x="-1.5" y="59.2" font-size="6.4" fill="#b2b5be" stroke="#b2b5be" stroke-width="0.08" font-weight="normal" text-anchor="start" textLength="63.1" lengthAdjust="spacingAndGlyphs">s Fibonacci Daily 15 Left</text>
<g fill="none" stroke="#50535e" stroke-width="0.7"><ellipse cx="70.1" cy="56.8" rx="3.5" ry="2.4"/><circle cx="70.1" cy="56.8" r="1.2"/></g>
<text x="0" y="70.1" font-size="6.4" fill="#4a4d58" stroke="#4a4d58" stroke-width="0.08" font-weight="normal" text-anchor="start" textLength="17.3" lengthAdjust="spacingAndGlyphs">close 0</text>
<text x="21.3" y="70.1" font-size="6.4" fill="#4b9cf0" stroke="#4b9cf0" stroke-width="0.08" font-weight="normal" text-anchor="start" textLength="23.4" lengthAdjust="spacingAndGlyphs">36771.57</text>
<text x="8.5" y="439.2" font-size="5.8" fill="#131722" stroke="#131722" stroke-width="0.08" font-weight="normal" text-anchor="middle" textLength="13.6" lengthAdjust="spacingAndGlyphs">03:00</text>
<text x="75" y="439.2" font-size="5.8" fill="#131722" stroke="#131722" stroke-width="0.08" font-weight="normal" text-anchor="middle" textLength="13.6" lengthAdjust="spacingAndGlyphs">06:00</text>
<text x="142" y="439.2" font-size="5.8" fill="#131722" stroke="#131722" stroke-width="0.08" font-weight="normal" text-anchor="middle" textLength="13.6" lengthAdjust="spacingAndGlyphs">09:00</text>
<text x="208.5" y="439.2" font-size="5.8" fill="#131722" stroke="#131722" stroke-width="0.08" font-weight="normal" text-anchor="middle" textLength="13.6" lengthAdjust="spacingAndGlyphs">12:00</text>
<text x="275.3" y="439.2" font-size="5.8" fill="#131722" stroke="#131722" stroke-width="0.08" font-weight="normal" text-anchor="middle" textLength="13.6" lengthAdjust="spacingAndGlyphs">15:00</text>
<text x="342" y="439.2" font-size="5.8" fill="#131722" stroke="#131722" stroke-width="0.08" font-weight="normal" text-anchor="middle" textLength="13.6" lengthAdjust="spacingAndGlyphs">18:00</text>
<text x="408.7" y="439.2" font-size="5.8" fill="#131722" stroke="#131722" stroke-width="0.08" font-weight="normal" text-anchor="middle" textLength="13.6" lengthAdjust="spacingAndGlyphs">21:00</text>
<text x="542.3" y="439.2" font-size="5.8" fill="#131722" stroke="#131722" stroke-width="0.08" font-weight="normal" text-anchor="middle" textLength="13.6" lengthAdjust="spacingAndGlyphs">03:00</text>
<text x="475.6" y="439.2" font-size="5.8" fill="#131722" stroke="#131722" stroke-width="0.05" font-weight="bold" text-anchor="middle" textLength="6.3" lengthAdjust="spacingAndGlyphs">27</text>
<line x1="116.3" y1="447.3" x2="116.3" y2="450" stroke="#e0e3eb" stroke-width="0.7"/>
<rect x="124.2" y="448.8" width="6.3" height="2" rx="0.6" fill="#50535e"/>
</svg></body></html>
